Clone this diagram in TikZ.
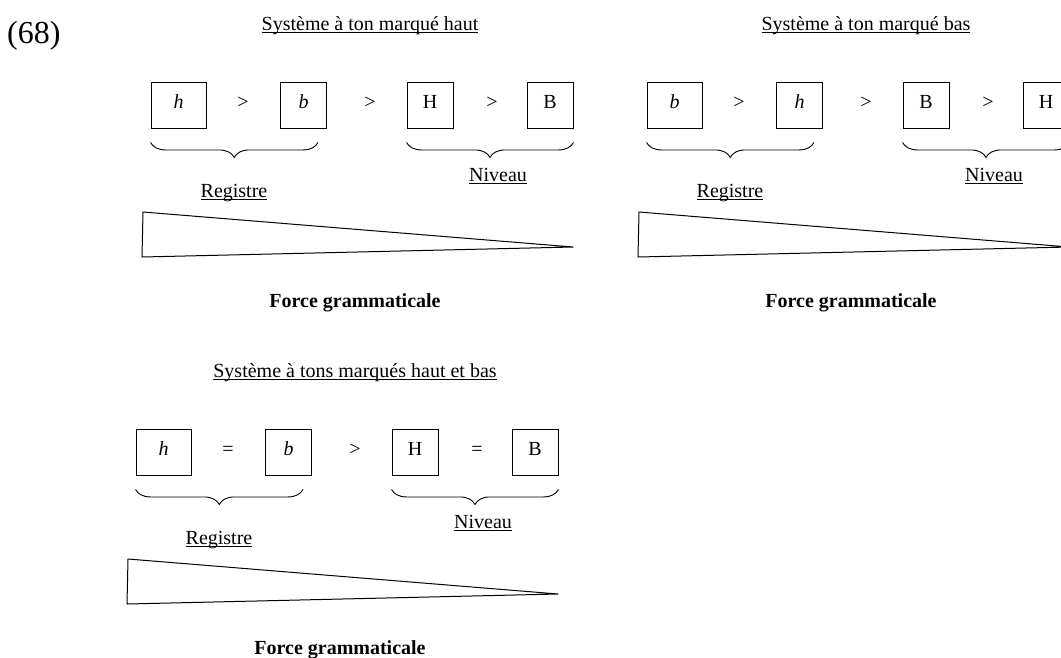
\documentclass[tikz,border=0pt]{standalone}
\usepackage{fontspec}
\setmainfont{Liberation Serif}
\usetikzlibrary{decorations.pathreplacing}
\newcommand{\ulin}[1]{\setbox0=\hbox{#1}\rlap{\rule[-2.8pt]{\wd0}{0.9pt}}\box0}
\tikzset{
  lbl/.style={font=\fontsize{20}{23}\selectfont, inner sep=0pt},
  tbox/.style={draw, line width=0.9pt, minimum height=46pt, inner sep=0pt,
    font=\fontsize{20}{23}\selectfont, text height=10pt, text depth=4pt},
  wide/.style={tbox, minimum width=55pt},
  narrow/.style={tbox, minimum width=46pt},
  rel/.style={lbl, text height=10pt, text depth=4pt},
  wedge/.style={draw, line width=1pt, line join=round},
  brc/.style={decorate, decoration={brace, mirror, amplitude=15pt}, line width=0.9pt},
  ttl/.style={lbl, anchor=base},
  frc/.style={lbl, anchor=base, font=\fontsize{20}{23}\selectfont\bfseries}
}
\begin{document}
\begin{tikzpicture}[x=1pt,y=-1pt]
\useasboundingbox (0,0) rectangle (1061,657);
\fill[white] (0,0) rectangle (1061,657);
\clip (0,0) rectangle (1061,657);

\node[anchor=base west, inner sep=0pt, font=\fontsize{32}{35}\selectfont] (num) at (7,43) {(68)};

% Panel 1
\begin{scope}[shift={(0,0)}]
\node[ttl] (t1) at (370,30) {\ulin{Système à ton marqué haut}};
\node[wide] (a1) at (178.5,105) {\textit{h}};
\node[rel] (ra1) at (243,105) {>};
\node[narrow] (b1) at (303.5,105) {\textit{b}};
\node[rel] (rb1) at (370,105) {>};
\node[narrow] (c1) at (430,105) {H};
\node[rel] (rc1) at (492,105) {>};
\node[narrow] (d1) at (550,105) {B};
\draw[brc] ([yshift=-14pt]a1.south west) -- ([xshift=-9pt,yshift=-14pt]b1.south east);
\draw[brc] ([yshift=-14pt]c1.south west) -- ([yshift=-14pt]d1.south east);
\node[lbl,anchor=base] (reg1) at (234,197) {\ulin{Registre}};
\node[lbl,anchor=base] (niv1) at (498,181) {\ulin{Niveau}};
\draw[wedge] (143,212) -- (142,257) -- (573,247) -- cycle;
\node[frc] (f1) at (355,307) {Force grammaticale};
\end{scope}

% Panel 2
\begin{scope}[shift={(496,0)}]
\node[ttl] (t2) at (370,30) {\ulin{Système à ton marqué bas}};
\node[wide] (a2) at (178.5,105) {\textit{b}};
\node[rel] (ra2) at (243,105) {>};
\node[narrow] (b2) at (303.5,105) {\textit{h}};
\node[rel] (rb2) at (370,105) {>};
\node[narrow] (c2) at (430,105) {B};
\node[rel] (rc2) at (492,105) {>};
\node[narrow] (d2) at (550,105) {H};
\draw[brc] ([yshift=-14pt]a2.south west) -- ([xshift=-9pt,yshift=-14pt]b2.south east);
\draw[brc] ([yshift=-14pt]c2.south west) -- ([yshift=-14pt]d2.south east);
\node[lbl,anchor=base] (reg2) at (234,197) {\ulin{Registre}};
\node[lbl,anchor=base] (niv2) at (498,181) {\ulin{Niveau}};
\draw[wedge] (143,212) -- (142,257) -- (573,247) -- cycle;
\node[frc] (f2) at (355,307) {Force grammaticale};
\end{scope}

% Panel 3
\begin{scope}[shift={(-15,347)}]
\node[ttl] (t3) at (370,30) {\ulin{Système à tons marqués haut et bas}};
\node[wide] (a3) at (178.5,105) {\textit{h}};
\node[rel] (ra3) at (243,105) {=};
\node[narrow] (b3) at (303.5,105) {\textit{b}};
\node[rel] (rb3) at (370,105) {>};
\node[narrow] (c3) at (430,105) {H};
\node[rel] (rc3) at (492,105) {=};
\node[narrow] (d3) at (550,105) {B};
\draw[brc] ([yshift=-14pt]a3.south west) -- ([xshift=-9pt,yshift=-14pt]b3.south east);
\draw[brc] ([yshift=-14pt]c3.south west) -- ([yshift=-14pt]d3.south east);
\node[lbl,anchor=base] (reg3) at (234,197) {\ulin{Registre}};
\node[lbl,anchor=base] (niv3) at (498,181) {\ulin{Niveau}};
\draw[wedge] (143,212) -- (142,257) -- (573,247) -- cycle;
\node[frc] (f3) at (355,307) {Force grammaticale};
\end{scope}
\end{tikzpicture}
\end{document}
